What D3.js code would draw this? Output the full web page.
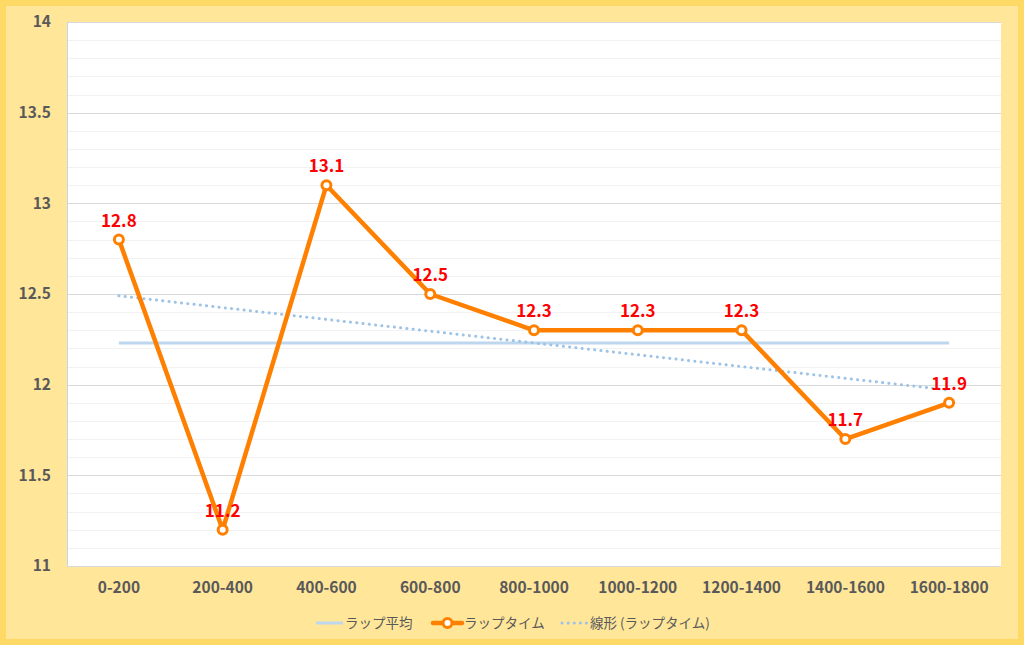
<!DOCTYPE html>
<html>
<head>
<meta charset="utf-8">
<script src="https://cdn.jsdelivr.net/npm/d3@7"></script>
<style>
  body { margin: 0; background: #fff; }
  svg { display: block; }
</style>
</head>
<body>
<div id="chart"></div>
<script>
// Data
const categories = ["0-200", "200-400", "400-600", "600-800", "800-1000", "1000-1200", "1200-1400", "1400-1600", "1600-1800"];
const lapTimes = [12.8, 11.2, 13.1, 12.5, 12.3, 12.3, 12.3, 11.7, 11.9];
const lapAverage = [12.23, 12.23];      // flat average line, first -> last category
const lapTrend = [12.49, 11.97];        // linear trend line, first -> last category
const yTicks = [11, 11.5, 12, 12.5, 13, 13.5, 14];
const legendLabels = ["ラップ平均", "ラップタイム", "線形 (ラップタイム)"];

const W = 1024, H = 645;
const margin = { top: 22, right: 23, bottom: 79, left: 67 };
const width = W - margin.left - margin.right;
const height = H - margin.top - margin.bottom;

const orange = "#FF8000";
const font = "'Noto Sans CJK JP', 'Noto Sans', sans-serif";

const svg = d3.select("#chart").append("svg")
    .attr("width", W)
    .attr("height", H);

// Outer frame
svg.append("rect")
    .attr("x", 0).attr("y", 0)
    .attr("width", W).attr("height", H)
    .attr("fill", "#FFD966");
svg.append("rect")
    .attr("x", 6).attr("y", 6)
    .attr("width", W - 12).attr("height", H - 12)
    .attr("fill", "#FFE699");

const g = svg.append("g")
    .attr("transform", `translate(${margin.left},${margin.top})`);

// Scales
const x = d3.scaleBand()
    .domain(categories)
    .range([0, width]);

const y = d3.scaleLinear()
    .domain([11, 14])
    .range([height, 0]);

const cx = d => x(d) + x.bandwidth() / 2;

// Plot area
g.append("rect")
    .attr("width", width)
    .attr("height", height)
    .attr("fill", "#ffffff");

// Minor gridlines every 0.1
const minorTicks = d3.range(11, 14.001, 0.1).filter(v => Math.abs(v * 2 - Math.round(v * 2)) > 0.01);
g.selectAll(".minor")
    .data(minorTicks)
    .join("line")
    .attr("class", "minor")
    .attr("x1", 0).attr("x2", width)
    .attr("y1", d => Math.round(y(d)) + 0.5)
    .attr("y2", d => Math.round(y(d)) + 0.5)
    .attr("stroke", "#F2F2F2")
    .attr("stroke-width", 1);

// Major gridlines
g.selectAll(".major")
    .data(yTicks)
    .join("line")
    .attr("class", "major")
    .attr("x1", 0).attr("x2", width)
    .attr("y1", d => Math.round(y(d)) + 0.5)
    .attr("y2", d => Math.round(y(d)) + 0.5)
    .attr("stroke", "#D9D9D9")
    .attr("stroke-width", 1);

// Axis lines (left and bottom)
g.append("line")
    .attr("x1", 0.5).attr("x2", 0.5)
    .attr("y1", 0).attr("y2", height)
    .attr("stroke", "#BDD7EE");
g.append("line")
    .attr("x1", 0).attr("x2", width)
    .attr("y1", height + 0.5).attr("y2", height + 0.5)
    .attr("stroke", "#D9D9D9");

// Y axis labels
const yAxis = d3.axisLeft(y).tickValues(yTicks).tickSize(0).tickPadding(16).tickFormat(d3.format("~g"));
g.append("g")
    .attr("class", "y-axis")
    .call(yAxis)
    .call(a => a.select(".domain").remove())
    .selectAll("text")
    .style("font-family", font)
    .style("font-size", "15.5px")
    .style("font-weight", "bold")
    .attr("fill", "#595959");

// X axis labels
const xAxis = d3.axisBottom(x).tickSize(0).tickPadding(16);
g.append("g")
    .attr("class", "x-axis")
    .attr("transform", `translate(0,${height})`)
    .call(xAxis)
    .call(a => a.select(".domain").remove())
    .selectAll("text")
    .style("font-family", font)
    .style("font-size", "15.5px")
    .style("font-weight", "bold")
    .attr("fill", "#595959");

// Average line
const first = categories[0], last = categories[categories.length - 1];
g.append("line")
    .attr("x1", cx(first)).attr("x2", cx(last))
    .attr("y1", y(lapAverage[0])).attr("y2", y(lapAverage[1]))
    .attr("stroke", "#BDD7EE")
    .attr("stroke-width", 3);

// Trend line (dotted)
g.append("line")
    .attr("x1", cx(first)).attr("x2", cx(last))
    .attr("y1", y(lapTrend[0])).attr("y2", y(lapTrend[1]))
    .attr("stroke", "#9DC3E6")
    .attr("stroke-width", 3)
    .attr("stroke-linecap", "round")
    .attr("stroke-dasharray", "0.1 6.2");

// Lap time line
const line = d3.line()
    .x((d, i) => cx(categories[i]))
    .y(d => y(d));

g.append("path")
    .datum(lapTimes)
    .attr("d", line)
    .attr("fill", "none")
    .attr("stroke", orange)
    .attr("stroke-width", 4.5)
    .attr("stroke-linejoin", "round");

g.selectAll(".marker")
    .data(lapTimes)
    .join("circle")
    .attr("class", "marker")
    .attr("cx", (d, i) => cx(categories[i]))
    .attr("cy", d => y(d))
    .attr("r", 4.5)
    .attr("fill", "#ffffff")
    .attr("stroke", orange)
    .attr("stroke-width", 3);

// Data labels
g.selectAll(".label")
    .data(lapTimes)
    .join("text")
    .attr("class", "label")
    .attr("x", (d, i) => cx(categories[i]))
    .attr("y", d => y(d) - 13)
    .attr("text-anchor", "middle")
    .style("font-family", font)
    .style("font-size", "17px")
    .style("font-weight", "bold")
    .attr("fill", "#FF0000")
    .text(d => d3.format(".1f")(d));

// Legend
const legend = svg.append("g")
    .attr("transform", "translate(0,623)");
const legendItems = [
    { x: 316, label: legendLabels[0] },
    { x: 433, label: legendLabels[1] },
    { x: 560, label: legendLabels[2] }
];

legend.append("line")
    .attr("x1", legendItems[0].x).attr("x2", legendItems[0].x + 27)
    .attr("stroke", "#BDD7EE").attr("stroke-width", 3);

legend.append("line")
    .attr("x1", legendItems[1].x).attr("x2", legendItems[1].x + 29)
    .attr("stroke", orange).attr("stroke-width", 4.5).attr("stroke-linecap", "round");
legend.append("circle")
    .attr("cx", legendItems[1].x + 14.5).attr("r", 4.5)
    .attr("fill", "#fff").attr("stroke", orange).attr("stroke-width", 3);

legend.append("line")
    .attr("x1", legendItems[2].x + 2).attr("x2", legendItems[2].x + 28)
    .attr("stroke", "#9DC3E6").attr("stroke-width", 3)
    .attr("stroke-linecap", "round").attr("stroke-dasharray", "0.1 6");

legend.selectAll(".legend-text")
    .data(legendItems)
    .join("text")
    .attr("class", "legend-text")
    .attr("x", (d, i) => d.x + (i === 0 ? 29 : i === 1 ? 31 : 30))
    .attr("y", 5)
    .style("font-family", font)
    .style("font-size", "13.5px")
    .attr("fill", "#595959")
    .text(d => d.label);
</script>
</body>
</html>
